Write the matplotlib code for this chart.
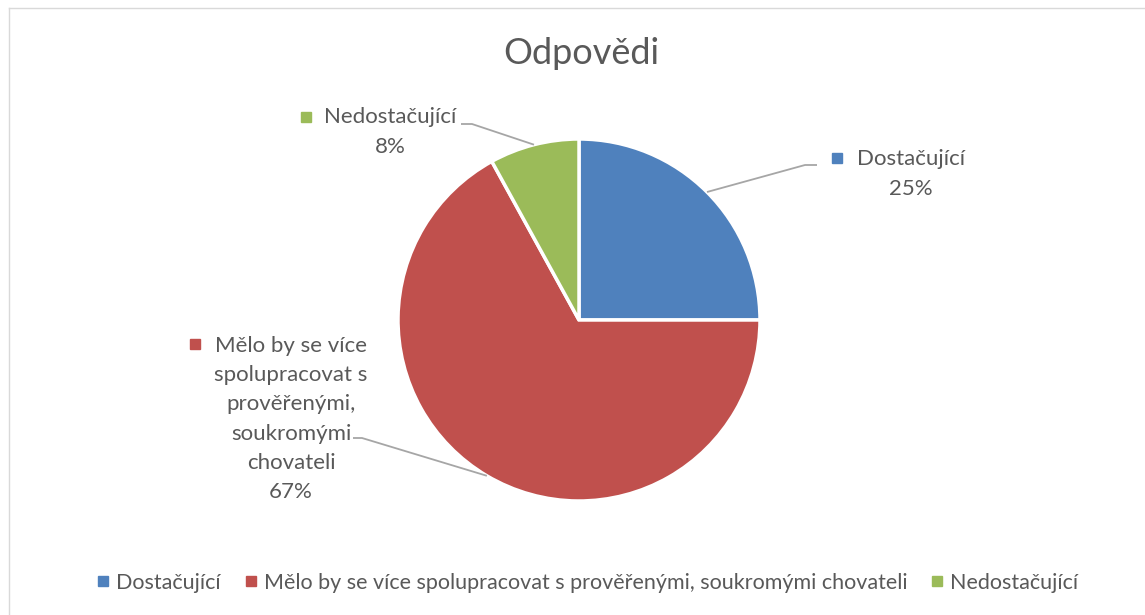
import numpy as np
import matplotlib
matplotlib.use("Agg")
import matplotlib.pyplot as plt
from matplotlib.lines import Line2D

plt.rcParams['font.family'] = ['Lato', 'DejaVu Sans']

# data
kategorie = ['Dostačující',
             'Mělo by se více spolupracovat s prověřenými, soukromými chovateli',
             'Nedostačující']
popisky = ['Dostačující',
           'Mělo by se více\nspolupracovat s\nprověřenými,\nsoukromými\nchovateli',
           'Nedostačující']
procenta = [25, 67, 8]
barvy = ['#4F81BD', '#C0504D', '#9BBB59']

W, H = 1145, 615
txt = '#595959'
fig = plt.figure(figsize=(W / 100, H / 100), dpi=100)

# pie centre (579, 320) px, radius 181 px
cx, cy, r = 579, 320, 181
ax = fig.add_axes([(cx - r) / W, (H - cy - r) / H, 2 * r / W, 2 * r / H])
wedges, _ = ax.pie(procenta, colors=barvy, startangle=90, counterclock=False,
                   radius=1, wedgeprops=dict(edgecolor='white', linewidth=2.5))
ax.set_xlim(-1, 1)
ax.set_ylim(-1, 1)
ax.set_aspect('equal')
ax.axis('off')


def px(x, y):
    # pixel coords -> data coords of pie axes
    return (x - cx) / r, (cy - y) / r


# label layout: (elbow, line end, text centre, marker pos)
rozlozeni = [
    ((805, 165), (817, 165), (911, 174), (837, 158)),
    ((362, 438), (353, 438), (291, 419), (195, 344)),
    ((472, 124), (461, 124), (390, 132), (306, 117)),
]

for w, lab, p, c, (elb, end, tc, mk) in zip(wedges, popisky, procenta, barvy, rozlozeni):
    ang = np.deg2rad((w.theta1 + w.theta2) / 2)
    x0, y0 = np.cos(ang), np.sin(ang)
    ex, ey = px(*elb)
    kx, ky = px(*end)
    ax.plot([x0, ex, kx], [y0, ey, ky], color='#A6A6A6', lw=1.3,
            clip_on=False, solid_capstyle='butt')
    tx, ty = px(*tc)
    ax.text(tx, ty, lab + '\n' + str(p) + '%', ha='center', va='center',
            fontsize=16, color=txt, linespacing=1.58, clip_on=False)
    mx, my = px(*mk)
    ax.plot([mx], [my], marker='s', markersize=7, color=c, clip_on=False)

fig.text(581 / W, 1 - 53 / H, 'Odpovědi', ha='center', va='center',
         fontsize=26, color=txt)

handles = [Line2D([], [], marker='s', linestyle='none', markersize=7, color=c)
           for c in barvy]
fig.legend(handles, kategorie, loc='center', bbox_to_anchor=(0.513, 32 / H),
           ncol=3, frameon=False, handlelength=0.6, handletextpad=0.3,
           columnspacing=1.1, fontsize=15.5, labelcolor=txt)

# chart area border (top and left visible)
fig.add_artist(Line2D([9 / W, 1], [1 - 8 / H, 1 - 8 / H], color='#D9D9D9', lw=1))
fig.add_artist(Line2D([9 / W, 9 / W], [0, 1 - 8 / H], color='#D9D9D9', lw=1))

fig.savefig('out.png', dpi=100, facecolor='white')
